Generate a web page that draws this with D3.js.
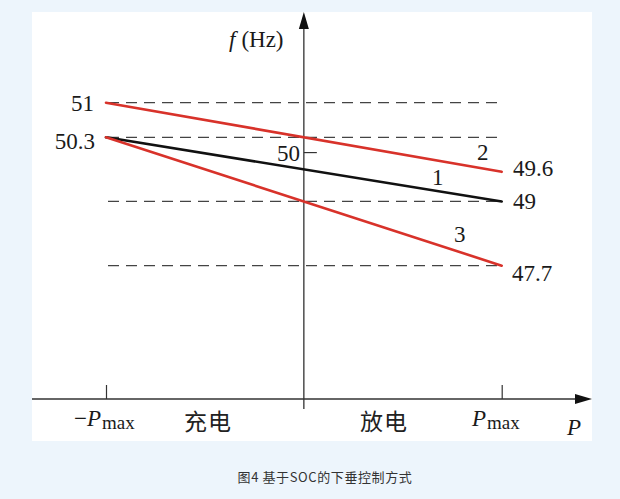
<!DOCTYPE html>
<html>
<head>
<meta charset="utf-8">
<script src="https://cdn.jsdelivr.net/npm/d3@7/dist/d3.min.js"></script>
<style>
  html, body { margin: 0; padding: 0; background: #edf5fc; }
  svg { display: block; }
</style>
</head>
<body>
<svg id="chart" width="620" height="499"></svg>
<script>
// ---- data ----
const powerTicks = [-1, 1];                 // -Pmax, Pmax
const refFreqs = [51, 50.3, 49, 47.7];      // dashed reference levels
const leftLabels = ["51", "50.3"];
const rightLabels = ["49.6", "49", "47.7"];
const curveNames = ["1", "2", "3"];
const curveStart = [50.3, 51, 50.3];        // f at -Pmax
const curveEnd = [49, 49.6, 47.7];          // f at Pmax
const curveColors = ["#111111", "#d8322a", "#d8322a"];
const midTick = [50];
const regionLabels = ["充电", "放电"];
const caption = "图4 基于SOC的下垂控制方式";

// ---- layout ----
const svg = d3.select("#chart");
svg.append("rect").attr("x", 32).attr("y", 12).attr("width", 560).attr("height", 429).attr("fill", "#ffffff");

const x = d3.scaleLinear().domain([-1, 1]).range([106, 501.7]);
const y = d3.scaleLinear().domain([45, 51]).range([399, 102.7]);
const serif = "'Liberation Serif', 'Times New Roman', serif";
const axisColor = "#333";

// dashed reference lines
svg.append("g").selectAll("line").data(refFreqs).join("line")
  .attr("x1", x(-1) + 2).attr("x2", x(1))
  .attr("y1", d => y(d)).attr("y2", d => y(d))
  .attr("stroke", "#444").attr("stroke-width", 1.25)
  .attr("stroke-dasharray", "11,7");

// x axis ticks via d3 axis
const xAxis = svg.append("g").attr("transform", `translate(0,${y(45)})`)
  .call(d3.axisBottom(x).tickValues(powerTicks).tickSize(-14).tickFormat(""));
xAxis.select(".domain").remove();
xAxis.selectAll(".tick line").attr("stroke", axisColor).attr("stroke-width", 1.2);

// y axis tick at 50
const yAxis = svg.append("g").attr("transform", `translate(${x(0)},0)`)
  .call(d3.axisRight(y).tickValues(midTick).tickSize(13).tickFormat(""));
yAxis.select(".domain").remove();
yAxis.selectAll(".tick line").attr("stroke", axisColor).attr("stroke-width", 1.2);

// axis lines with arrows
svg.append("line").attr("x1", 32).attr("x2", 578).attr("y1", y(45)).attr("y2", y(45))
  .attr("stroke", axisColor).attr("stroke-width", 1.3);
svg.append("path").attr("d", `M592,${y(45)} L575,${y(45) - 5} L575,${y(45) + 5} Z`).attr("fill", "#111");
svg.append("line").attr("x1", x(0)).attr("x2", x(0)).attr("y1", 409).attr("y2", 26)
  .attr("stroke", axisColor).attr("stroke-width", 1.3);
svg.append("path").attr("d", `M${x(0)},12 L${x(0) - 5},29 L${x(0) + 5},29 Z`).attr("fill", "#111");

// droop curves
const curves = curveNames.map((n, i) => ({ name: n, pts: [[-1, curveStart[i]], [1, curveEnd[i]]], color: curveColors[i] }));
const lineGen = d3.line().x(d => x(d[0])).y(d => y(d[1]));
svg.append("g").selectAll("path").data(curves).join("path")
  .attr("d", d => lineGen(d.pts))
  .attr("fill", "none").attr("stroke", d => d.color).attr("stroke-width", 2.6)
  .attr("stroke-linecap", "round");

// text helpers
function txt(xp, yp, s, opts = {}) {
  return svg.append("text").attr("x", xp).attr("y", yp).text(s)
    .attr("font-family", opts.family || serif)
    .attr("font-size", opts.size || 23)
    .attr("font-style", opts.italic ? "italic" : null)
    .attr("text-anchor", opts.anchor || "start")
    .attr("letter-spacing", opts.ls || null)
    .attr("fill", opts.fill || "#1a1a1a");
}

// left value labels
txt(94, y(51) + 8, leftLabels[0], { anchor: "end" });
txt(95, y(50.3) + 12, leftLabels[1], { anchor: "end" });
// 50 label
txt(300, y(50) + 9, "50", { anchor: "end" });
// right labels
txt(513, y(49.6) + 4, rightLabels[0]);
txt(513, y(49) + 8, rightLabels[1]);
txt(512, y(47.7) + 15, rightLabels[2]);
// curve numbers
txt(477, 160, curveNames[1]);
txt(432, 185, curveNames[0]);
txt(454, 241.5, curveNames[2]);

// f (Hz)
const fl = svg.append("text").attr("x", 229).attr("y", 46.5).attr("font-family", serif).attr("font-size", 23).attr("fill", "#1a1a1a");
fl.append("tspan").attr("font-style", "italic").text("f");
fl.append("tspan").attr("dx", 6).text("(Hz)");

// power tick labels
function pLabel(xp, minus) {
  const t = svg.append("text").attr("x", xp).attr("y", 426).attr("font-family", serif).attr("font-size", 23).attr("fill", "#1a1a1a");
  if (minus) t.append("tspan").text("−");
  t.append("tspan").attr("font-style", "italic").text("P");
  t.append("tspan").attr("font-size", 19).attr("dy", 3).attr("dx", 1).text("max");
}
pLabel(74, true);
pLabel(472, false);
txt(567, 435, "P", { italic: true });

// region labels
const cjk = "'Noto Sans CJK SC', sans-serif";
txt(208, 430, regionLabels[0], { anchor: "middle", family: cjk, size: 23, fill: "#222", ls: 1 });
txt(384, 430, regionLabels[1], { anchor: "middle", family: cjk, size: 23, fill: "#222", ls: 1 });

// caption
txt(325, 482, caption, { anchor: "middle", family: cjk, size: 13, fill: "#333", ls: 0.6 });
</script>
</body>
</html>
